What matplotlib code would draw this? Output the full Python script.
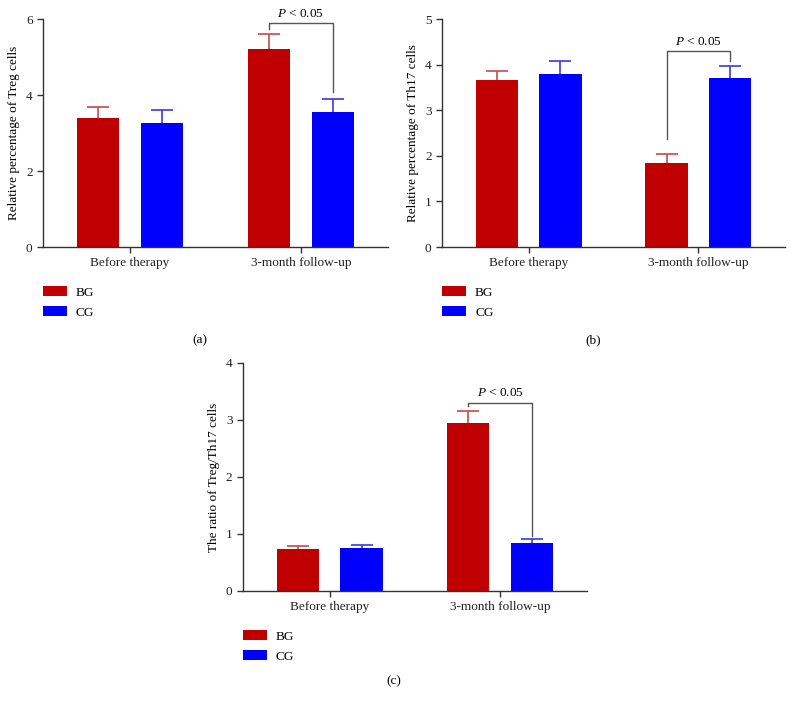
import matplotlib
matplotlib.use("Agg")
import matplotlib.pyplot as plt
import numpy as np

plt.rcParams['font.family'] = ['Liberation Serif', 'DejaVu Serif']
plt.rcParams['font.size'] = 9.5
plt.rcParams['mathtext.fontset'] = 'custom'
plt.rcParams['mathtext.it'] = 'Liberation Serif:italic'
plt.rcParams['mathtext.rm'] = 'Liberation Serif'

groups = ["Before therapy", "3-month follow-up"]
series = ["BG", "CG"]

treg_bg = [3.40, 5.20]
treg_bg_err = [0.28, 0.40]
treg_cg = [3.26, 3.55]
treg_cg_err = [0.34, 0.35]

th17_bg = [3.66, 1.85]
th17_bg_err = [0.20, 0.20]
th17_cg = [3.80, 3.70]
th17_cg_err = [0.28, 0.28]

ratio_bg = [0.74, 2.95]
ratio_bg_err = [0.05, 0.21]
ratio_cg = [0.76, 0.85]
ratio_cg_err = [0.05, 0.07]

bar_colors = ["#C00000", "#0000FF"]
err_colors = ["#C84848", "#3838E8"]
spine_col = "#333333"

fig = plt.figure(figsize=(7.93, 7.08), dpi=100)

def panel(rect, bg, bge, cg, cge, ylim, yticks, ylabel, bracket, text_y):
    ax = fig.add_axes(rect)
    x = np.arange(len(groups))
    w = 0.25
    off = 0.1875
    cap = 0.065
    for i, (vals, errs) in enumerate([(bg, bge), (cg, cge)]):
        pos = x + (-off if i == 0 else off)
        vals = np.asarray(vals)
        errs = np.asarray(errs)
        ax.bar(pos, vals, width=w, color=bar_colors[i], label=series[i], zorder=2)
        ax.vlines(pos, vals, vals + errs, color=err_colors[i], lw=1.2, zorder=1)
        ax.hlines(vals + errs, pos - cap, pos + cap, color=err_colors[i], lw=1.2, zorder=1)
    ax.set_xlim(-0.51, 1.51)
    ax.set_ylim(*ylim)
    ax.set_yticks(yticks)
    ax.set_xticks(x)
    ax.set_xticklabels(groups)
    ax.set_ylabel(ylabel)
    for s in ["top", "right"]:
        ax.spines[s].set_visible(False)
    for s in ["left", "bottom"]:
        ax.spines[s].set_color(spine_col)
        ax.spines[s].set_linewidth(1.0)
    ax.tick_params(colors=spine_col, labelcolor="#222222", length=4, width=1.0, direction='out')
    top, left_end, right_end = bracket
    xl = x[1] - off
    xr = x[1] + off
    ax.plot([xl, xl, xr, xr], [left_end, top, top, right_end], color="#555555", lw=1.0, zorder=3)
    ax.text((xl + xr) / 2, text_y, r"$\it{P}$ < 0.05", ha='center', va='center', fontsize=9.5)
    ax.legend(loc='upper left', bbox_to_anchor=(0.0, -0.17), frameon=False,
              handlelength=1.8, handleheight=0.85, labelspacing=0.55,
              handletextpad=0.7, borderpad=0, borderaxespad=0, fontsize=9.5)
    return ax

axh = 0.322
panel([0.0542, 0.6511, 0.4351, axh], treg_bg, treg_bg_err, treg_cg, treg_cg_err,
      (0, 6), [0, 2, 4, 6], "Relative percentage of Treg cells", (5.9, 5.74, 4.08), 6.13)
panel([0.5574, 0.6511, 0.4325, axh], th17_bg, th17_bg_err, th17_cg, th17_cg_err,
      (0, 5), [0, 1, 2, 3, 4, 5], "Relative percentage of Th17 cells", (4.3, 2.37, 4.08), 4.5)
panel([0.3064, 0.1653, 0.4338, axh], ratio_bg, ratio_bg_err, ratio_cg, ratio_cg_err,
      (0, 4), [0, 1, 2, 3, 4], "The ratio of Treg/Th17 cells", (3.30, 3.25, 0.96), 3.47)

fig.text(200 / 793, 1 - 340 / 708, "(a)", ha='center', va='center', fontsize=9.5)
fig.text(593 / 793, 1 - 340 / 708, "(b)", ha='center', va='center', fontsize=9.5)
fig.text(394 / 793, 1 - 681 / 708, "(c)", ha='center', va='center', fontsize=9.5)

fig.savefig("out.png", dpi=100)
